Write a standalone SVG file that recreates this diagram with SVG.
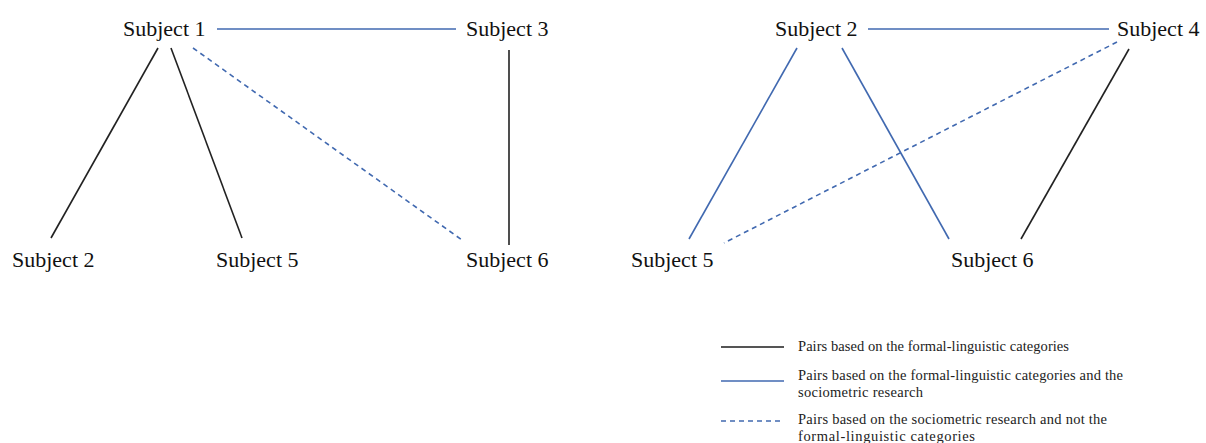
<svg xmlns="http://www.w3.org/2000/svg" width="1206" height="443" viewBox="0 0 1206 443">
<style>
.lbl{font-family:"Liberation Serif","Times New Roman",serif;font-size:22px;fill:#111}
.leg{font-family:"Liberation Serif","Times New Roman",serif;font-size:14.5px;fill:#222}
.k{stroke:#222;stroke-width:1.6;fill:none}
.kl{stroke:#555;stroke-width:2;fill:none}
.b{stroke:#4169b0;stroke-width:1.6;fill:none}
.d{stroke:#4169b0;stroke-width:1.6;fill:none;stroke-dasharray:5,4}
</style>
<rect width="1206" height="443" fill="#fff"/>
<g id="connectors">
<line class="b" x1="217" y1="29" x2="456" y2="29"/>
<line class="k" x1="158" y1="48" x2="51" y2="238"/>
<line class="k" x1="171" y1="48" x2="242" y2="238"/>
<line class="d" x1="193" y1="48" x2="462" y2="240"/>
<line class="k" x1="509" y1="50" x2="509" y2="245"/>
<line class="b" x1="868" y1="29" x2="1109" y2="29"/>
<line class="b" x1="797" y1="48" x2="689" y2="239"/>
<line class="b" x1="842" y1="48" x2="949" y2="239"/>
<line class="d" x1="1117" y1="42" x2="724" y2="243"/>
<line class="k" x1="1129" y1="49" x2="1021" y2="239"/>
</g>
<g id="L-s1"><text class="lbl" x="123" y="36">Subject 1</text></g>
<g id="L-s3"><text class="lbl" x="466" y="36">Subject 3</text></g>
<g id="L-s2"><text class="lbl" x="12" y="267">Subject 2</text></g>
<g id="L-s5"><text class="lbl" x="216" y="267">Subject 5</text></g>
<g id="L-s6"><text class="lbl" x="466" y="267">Subject 6</text></g>
<g id="R-s2"><text class="lbl" x="775" y="36">Subject 2</text></g>
<g id="R-s4"><text class="lbl" x="1117" y="36">Subject 4</text></g>
<g id="R-s5"><text class="lbl" x="631" y="267">Subject 5</text></g>
<g id="R-s6"><text class="lbl" x="951" y="267">Subject 6</text></g>
<g id="legend">
<line class="kl" x1="721" y1="347" x2="784" y2="347"/>
<line class="b" x1="721" y1="381" x2="784" y2="381"/>
<line class="d" x1="721" y1="421" x2="784" y2="421"/>
<text class="leg" x="798" y="351" textLength="271" lengthAdjust="spacing">Pairs based on the formal-linguistic categories</text>
<text class="leg" x="798" y="380" textLength="325" lengthAdjust="spacing">Pairs based on the formal-linguistic categories and the</text>
<text class="leg" x="798" y="397" textLength="125" lengthAdjust="spacing">sociometric research</text>
<text class="leg" x="798" y="424" textLength="309" lengthAdjust="spacing">Pairs based on the sociometric research and not the</text>
<text class="leg" x="798" y="441" textLength="177" lengthAdjust="spacing">formal-linguistic categories</text>
</g>
</svg>
